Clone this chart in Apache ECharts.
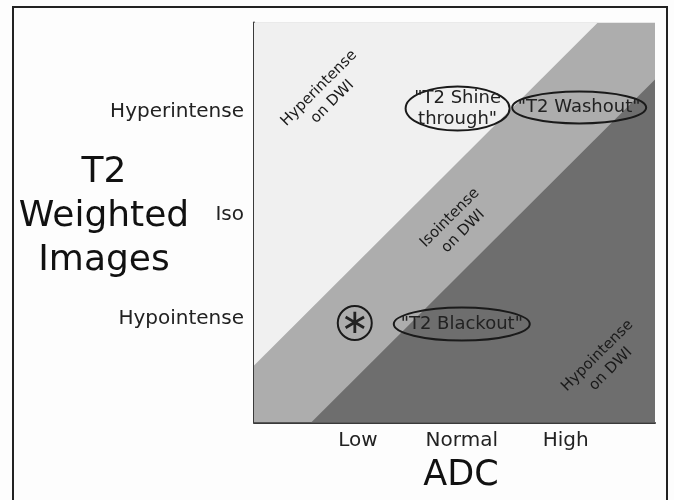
<!DOCTYPE html>
<html>
<head>
<meta charset="utf-8">
<script src="https://cdn.jsdelivr.net/npm/echarts@6/dist/echarts.min.js"></script>
<style>
html,body{margin:0;padding:0;background:#fdfdfd;}
#chart{width:674px;height:500px;}
</style>
</head>
<body>
<div id="chart"></div>
<script>
// ---- data ----
const xTickValues = [1, 2, 3];
const xTickLabels = ['Low', 'Normal', 'High'];
const yTickValues = [1, 2, 3];
const yTickLabels = ['Hypointense', 'Iso', 'Hyperintense'];
const axisMax = 3.86;
// band boundaries: lines y = x + offset
const upperBoundaryOffset = 0.55;
const lowerBoundaryOffset = -0.55;
const regionLabels = ['Hyperintense\non DWI', 'Isointense\non DWI', 'Hypointense\non DWI'];
const regionX = [0.69, 1.95, 3.37];
const regionY = [3.16, 1.91, 0.58];
const findingLabels = ['"T2 Shine\nthrough"', '"T2 Washout"', '\u2217', '"T2 Blackout"'];
const findingX = [1.96, 3.13, 0.97, 2.0];
const findingY = [3.03, 3.04, 0.96, 0.95];
const yAxisTitleLines = ['T2', 'Weighted', 'Images'];

// ---- styles ----
const bandColors = {light: '#f0f0f0', medium: '#adadad', dark: '#6e6e6e'};
const findingShapes = [
  {rx: 52, ry: 22, fontSize: 18, lineHeight: 21},
  {rx: 67, ry: 16, fontSize: 18, lineHeight: 21},
  {rx: 17, ry: 17, fontSize: 34, lineHeight: 34},
  {rx: 68, ry: 16.5, fontSize: 18, lineHeight: 21}
];
const FONT = 'DejaVu Sans';

const chart = echarts.init(document.getElementById('chart'), null, {renderer: 'canvas'});

function bandRender(params, api) {
  const t = api.value(0);
  const c1 = upperBoundaryOffset, c2 = lowerBoundaryOffset, M = axisMax;
  let pts, color;
  if (t === 0) {
    pts = [[0, 0], [0, M], [M, M], [M, 0]];
    color = bandColors.medium;
  } else if (t === 1) {
    pts = [[0, c1], [0, M], [M - c1, M]];
    color = bandColors.light;
  } else {
    pts = [[-c2, 0], [M, 0], [M, M + c2]];
    color = bandColors.dark;
  }
  return {
    type: 'polygon',
    shape: {points: pts.map(p => api.coord(p))},
    style: {fill: color}
  };
}

function regionRender(params, api) {
  const p = api.coord([api.value(0), api.value(1)]);
  return {
    type: 'text',
    x: p[0], y: p[1],
    rotation: Math.PI / 4,
    style: {
      text: regionLabels[params.dataIndex],
      font: '15px "' + FONT + '"',
      fill: '#1a1a1a',
      align: 'center',
      verticalAlign: 'middle',
      lineHeight: 19
    }
  };
}

function findingRender(params, api) {
  const i = params.dataIndex;
  const p = api.coord([api.value(0), api.value(1)]);
  const s = findingShapes[i];
  return {
    type: 'group',
    children: [
      {
        type: 'ellipse',
        shape: {cx: p[0], cy: p[1], rx: s.rx, ry: s.ry},
        style: {fill: 'none', stroke: '#1a1a1a', lineWidth: 2}
      },
      {
        type: 'text',
        x: p[0], y: p[1] + (i === 2 ? 1 : 0),
        style: {
          text: findingLabels[i],
          font: s.fontSize + 'px "' + FONT + '"',
          fill: '#222',
          align: 'center',
          verticalAlign: 'middle',
          lineHeight: s.lineHeight
        }
      }
    ]
  };
}

const option = {
  backgroundColor: '#fdfdfd',
  animation: false,
  textStyle: {fontFamily: FONT},
  grid: {left: 254, top: 22.5, right: 19, bottom: 77.5, containLabel: false, outerBoundsMode: 'none'},
  graphic: [{
    type: 'rect',
    shape: {x: 13, y: 7, width: 654, height: 510},
    style: {fill: 'none', stroke: '#222', lineWidth: 2},
    z: 100
  }],
  xAxis: {
    type: 'value', min: 0, max: axisMax, interval: 1,
    name: 'ADC', nameLocation: 'middle', nameGap: 36, nameMoveOverlap: false,
    nameTextStyle: {fontSize: 35, color: '#111', fontFamily: FONT, padding: [0, 0, 0, 13]},
    axisLine: {show: true, lineStyle: {color: '#3a3a3a', width: 2}},
    axisTick: {show: true, inside: true, length: 6, customValues: xTickValues, lineStyle: {color: '#3a3a3a', width: 1.5}},
    axisLabel: {customValues: xTickValues, margin: 8, fontSize: 20, color: '#222', fontFamily: FONT,
      formatter: v => xTickLabels[xTickValues.indexOf(Math.round(v))] || ''},
    splitLine: {show: false}
  },
  yAxis: {
    type: 'value', min: 0, max: axisMax, interval: 1,
    name: yAxisTitleLines.map(s => '{a|' + s + '}').join('\n') + '\n{b|}',
    nameLocation: 'middle', nameRotate: 0, nameGap: 150, nameMoveOverlap: false,
    nameTextStyle: {fontSize: 36, lineHeight: 44, color: '#111', fontFamily: FONT, align: 'center', verticalAlign: 'middle',
      rich: {
        a: {fontSize: 36, lineHeight: 44, color: '#111', fontFamily: FONT, align: 'center'},
        b: {fontSize: 1, lineHeight: 12, height: 12}
      }},
    axisLine: {show: true, lineStyle: {color: '#3a3a3a', width: 2}},
    axisTick: {show: true, inside: true, length: 6, customValues: yTickValues, lineStyle: {color: '#3a3a3a', width: 1.5}},
    axisLabel: {customValues: yTickValues, margin: 10, fontSize: 20, color: '#222', fontFamily: FONT,
      formatter: v => yTickLabels[yTickValues.indexOf(Math.round(v))] || ''},
    splitLine: {show: false}
  },
  series: [
    {type: 'custom', renderItem: bandRender, data: [[0], [1], [2]], clip: true, z: 1, silent: true},
    {type: 'custom', renderItem: regionRender, data: regionX.map((x, i) => [x, regionY[i]]), z: 3, silent: true},
    {type: 'custom', renderItem: findingRender, data: findingX.map((x, i) => [x, findingY[i]]), z: 4, silent: true}
  ]
};
chart.setOption(option);
</script>
</body>
</html>
